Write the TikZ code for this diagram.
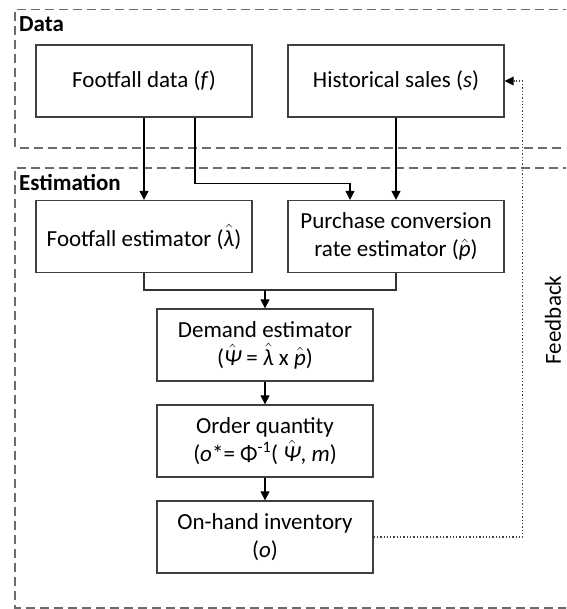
\documentclass[tikz,border=0pt]{standalone}
\usepackage{fontspec}
\setmainfont{Carlito}
\usetikzlibrary{arrows.meta,calc}
\newcommand\hatit[1]{$\hat{\mbox{\itshape #1}}$}
\begin{document}
\begin{tikzpicture}[x=1pt,y=-1pt,
  box/.style={draw=black!75,line width=1.3pt,minimum width=216pt,minimum height=72pt,align=center,inner sep=2pt,font=\fontsize{23}{28}\selectfont},
  grp/.style={draw=black!58,line width=1.7pt,dash pattern=on 9pt off 5pt},
  grplabel/.style={anchor=base west,inner sep=0pt,font=\fontsize{23}{28}\selectfont\bfseries},
  arr/.style={draw=black,line width=1.2pt,-{Triangle[length=9pt,width=9pt]}},
  conn/.style={draw=black!80,line width=1.2pt},
  fb/.style={draw=black!75,line width=1.3pt,dotted,-{Triangle[length=9pt,width=9pt,color=black,fill=black,line width=0pt]}}]
\useasboundingbox (0,0) rectangle (566,609);
\clip (0,0) rectangle (566,609);
% groups
\draw[grp] (600,9.5) -- (15,9.5) -- (15,148) -- (600,148);
\draw[grp] (600,168) -- (15,168) -- (15,608) -- (600,608);
\node[grplabel] (ldata) at (19,32) {Data};
\node[grplabel] (lest) at (19,191) {Estimation};
% boxes
\node[box] (fd) at (144,81) {Footfall data (\textit{f})};
\node[box] (hs) at (396,81) {Historical sales (\textit{s})};
\node[box] (fe) at (144,236.5) {Footfall estimator (\hatit{λ})};
\node[box] (pc) at (396,236.5) {Purchase conversion\\rate estimator (\hatit{p})};
\node[box] (de) at (265,345) {Demand estimator\\(\hatit{Ψ} = \hatit{λ} x \hatit{p})};
\node[box] (oq) at (265,441) {Order quantity\\(\textit{o}*= Φ\textsuperscript{-1}( \hatit{Ψ}, \textit{m})};
\node[box] (oh) at (265,537) {On-hand inventory\\(\textit{o})};
\node[rotate=90,font=\fontsize{23}{28}\selectfont] (fbl) at (553,320) {Feedback};
% connectors
\draw[arr] (fd.south) -- (fe.north);
\draw[arr] ([xshift=51pt]fd.south) -- ++(0,66) -| ([xshift=-46pt]pc.north);
\draw[arr] (hs.south) -- (pc.north);
\coordinate (j) at (265,290);
\draw[conn] (fe.south) |- (j) -| (pc.south);
\draw[arr] (j) -- (de.north);
\draw[arr] (de.south) -- (oq.north);
\draw[arr] (oq.south) -- (oh.north);
\draw[fb] (oh.east) -- ++(149,0) |- (hs.east);
\end{tikzpicture}
\end{document}
